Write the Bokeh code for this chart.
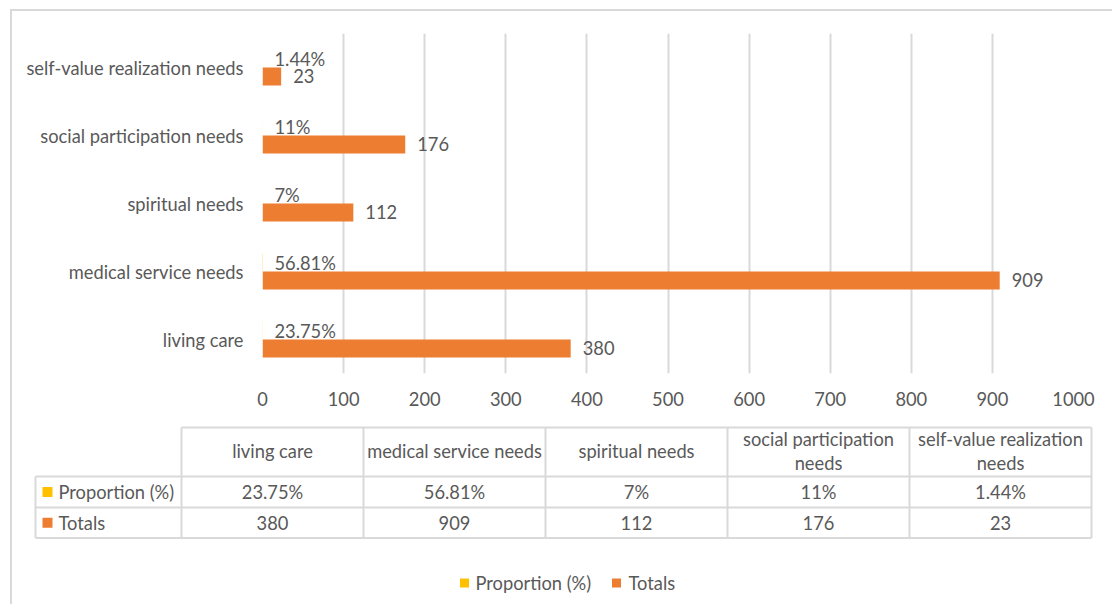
from bokeh.plotting import figure
from bokeh.models import FactorRange, Range1d, ColumnDataSource, FixedTicker
from bokeh.transform import dodge
from bokeh.layouts import column
from bokeh.embed import file_html
from bokeh.resources import INLINE
from bokeh.core.properties import value

# ---------------- data ----------------
categories = ["living care", "medical service needs", "spiritual needs",
              "social participation needs", "self-value realization needs"]
proportion = [23.75, 56.81, 7, 11, 1.44]
proportion_labels = ["23.75%", "56.81%", "7%", "11%", "1.44%"]
totals = [380, 909, 112, 176, 23]
totals_labels = ["380", "909", "112", "176", "23"]
series_names = ["Proportion (%)", "Totals"]
series_colors = ["#FFC000", "#ED7D31"]
x_ticks = [0, 100, 200, 300, 400, 500, 600, 700, 800, 900, 1000]

FONT = "Lato"
FS = "18.3px"
TXT = "#595959"
GRID = "#d9d9d9"

# ---------------- bar chart ----------------
src = ColumnDataSource(dict(
    cat=categories,
    prop=[v / 100 for v in proportion],
    plabel=proportion_labels,
    tot=totals,
    tlabel=totals_labels,
))

p = figure(y_range=FactorRange(factors=categories), x_range=Range1d(0, 1000),
           width=1100, height=404, output_backend="svg", toolbar_location=None,
           min_border_left=250, min_border_right=39, min_border_top=22,
           min_border_bottom=42)
p.frame_align = False

OFF = 0.132
BH = 0.265
p.hbar(y=dodge("cat", OFF, range=p.y_range), left=0, right="prop", height=BH,
       fill_color=series_colors[0], line_color=None, source=src)
p.hbar(y=dodge("cat", -OFF, range=p.y_range), left=0, right="tot", height=BH,
       fill_color=series_colors[1], line_color=None, source=src)

p.text(x=0, y=dodge("cat", OFF, range=p.y_range), text="plabel", source=src,
       x_offset=12, text_align="left", text_baseline="middle",
       text_font=value(FONT), text_font_size=FS, text_color=TXT)
p.text(x="tot", y=dodge("cat", -OFF, range=p.y_range), text="tlabel", source=src,
       x_offset=12, text_align="left", text_baseline="middle",
       text_font=value(FONT), text_font_size=FS, text_color=TXT)

for ax in (p.xaxis, p.yaxis):
    ax.axis_line_color = None
    ax.major_tick_line_color = None
    ax.minor_tick_line_color = None
    ax.major_label_text_font = FONT
    ax.major_label_text_font_size = FS
    ax.major_label_text_color = TXT
p.xaxis.ticker = FixedTicker(ticks=x_ticks)
p.xaxis.major_label_standoff = 12
p.yaxis.major_label_standoff = 13
p.xgrid.ticker = FixedTicker(ticks=x_ticks)
p.xgrid.grid_line_color = GRID
p.xgrid.grid_line_width = 2
p.ygrid.grid_line_color = None
p.outline_line_color = None

# ---------------- data table + legend ----------------
t = figure(width=1100, height=189, x_range=Range1d(12, 1112), y_range=Range1d(604, 415),
           x_axis_type=None, y_axis_type=None, output_backend="svg",
           toolbar_location=None, min_border=0, min_border_left=0,
           min_border_right=0, min_border_top=0, min_border_bottom=0)
t.frame_align = False
t.grid.visible = False
t.outline_line_color = None

label_left = 35
col0 = 181
colw = 182
y_head_top, y_head_bot, y_row1, y_row2 = 427, 476, 507, 537.5
ncol = len(categories)
col_right = col0 + colw * ncol

# horizontal rules
hx0 = [col0, label_left, label_left, label_left]
hx1 = [col_right] * 4
hy = [y_head_top, y_head_bot, y_row1, y_row2]
t.segment(x0=hx0, y0=hy, x1=hx1, y1=hy, line_color=GRID, line_width=2)
# vertical rules
vx = [label_left] + [col0 + colw * i for i in range(ncol + 1)]
vy0 = [y_head_bot] + [y_head_top] * (ncol + 1)
vy1 = [y_row2] * (ncol + 2)
t.segment(x0=vx, y0=vy0, x1=vx, y1=vy1, line_color=GRID, line_width=2)

# header texts (wrap long names at last space)
hxs, hys, htx = [], [], []
for i, c in enumerate(categories):
    cx = col0 + colw * (i + 0.5)
    if len(c) > 22:
        a, b = c.rsplit(" ", 1)
        lines = [a, b]
    else:
        lines = [c]
    ymid = (y_head_top + y_head_bot) / 2 - 1
    n = len(lines)
    for k, ln in enumerate(lines):
        hxs.append(cx)
        hys.append(ymid + (k - (n - 1) / 2) * 24)
        htx.append(ln)
t.text(x=hxs, y=hys, text=htx, text_align="center", text_baseline="middle",
       text_font=value(FONT), text_font_size=FS, text_color=TXT)

# row values
row_y = [(y_head_bot + y_row1) / 2, (y_row1 + y_row2) / 2]
for r, labels in enumerate([proportion_labels, totals_labels]):
    t.text(x=[col0 + colw * (i + 0.5) for i in range(ncol)], y=[row_y[r]] * ncol,
           text=labels, text_align="center", text_baseline="middle",
           text_font=value(FONT), text_font_size=FS, text_color=TXT)

# row headers with colour keys
t.scatter(x=[47, 47], y=row_y, marker="square", size=10,
          fill_color=series_colors, line_color=None)
t.text(x=[58, 58], y=row_y, text=series_names, text_align="left",
       text_baseline="middle", text_font=value(FONT), text_font_size=FS,
       text_color=TXT)

# legend
leg_y = 582.5
leg_sq_x = [464, 616]
leg_tx_x = [475, 628]
t.scatter(x=leg_sq_x, y=[leg_y, leg_y], marker="square", size=9,
          fill_color=series_colors, line_color=None)
t.text(x=leg_tx_x, y=[leg_y, leg_y], text=series_names,
       text_align="left", text_baseline="middle", text_font=value(FONT),
       text_font_size=FS, text_color=TXT)

layout = column(p, t, margin=(9, 0, 0, 10),
                styles={"border-left": "2px solid #d9d9d9",
                        "border-top": "2px solid #d9d9d9"})

open("out.html", "w").write(file_html(layout, INLINE))
